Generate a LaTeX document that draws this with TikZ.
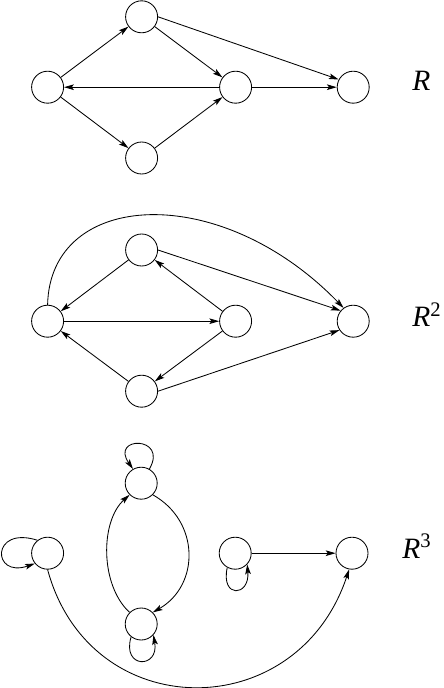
\documentclass[tikz,border=0pt]{standalone}
\usepackage{amsmath,amssymb}
\usepackage{fontspec}
\newfontfamily\labfont{Liberation Serif}
\usepackage{tikz}
\usetikzlibrary{positioning,arrows.meta,calc}

\begin{document}
\begin{tikzpicture}[
  >={Stealth[length=7pt,width=4pt,inset=1.5pt]}, line width=.6pt,
  vx/.style={circle,draw,minimum size=8mm,inner sep=0pt},
  lab/.style={anchor=base west,inner sep=0pt,font=\labfont\fontsize{21}{24}\selectfont}
]
  \useasboundingbox (0,0) rectangle (11.075,-17.2);
  % R
  \node[vx] (l1) at (1.19,-2.18) {};
  \node[vx] (t1) at (3.54,-0.42) {};
  \node[vx] (b1) at (3.54,-3.95) {};
  \node[vx] (m1) at (5.89,-2.18) {};
  \node[vx] (f1) at (8.83,-2.18) {};
  \node[lab] (n1) at (10.3,-2.27) {\textit{R}};
  \draw[->] (l1) -- (t1);
  \draw[->] (l1) -- (b1);
  \draw[->] (t1) -- (m1);
  \draw[->] (b1) -- (m1);
  \draw[->] (m1) -- (l1);
  \draw[->] (m1) -- (f1);
  \draw[->] (t1.east) -- (f1.152);
  % R^2
  \node[vx] (l2) at (1.19,-8.03) {};
  \node[vx] (t2) at (3.54,-6.25) {};
  \node[vx] (b2) at (3.54,-9.78) {};
  \node[vx] (m2) at (5.89,-8.03) {};
  \node[vx] (f2) at (8.83,-8.03) {};
  \node[lab] (n2) at (10.3,-8.17) {\textit{R}\textsuperscript{2}};
  \draw[->] (t2) -- (l2);
  \draw[->] (l2) -- (m2);
  \draw[->] (m2) -- (t2);
  \draw[->] (m2) -- (b2);
  \draw[->] (b2) -- (l2);
  \draw[->] (t2.east) -- (f2.140);
  \draw[->] (b2.east) -- (f2.213);
  \draw[->] (l2.north) .. controls (1.25,-4.75) and (5.5,-4.5) .. (f2.126);
  % R^3
  \node[vx] (l3) at (1.19,-13.83) {};
  \node[vx] (t3) at (3.53,-12.08) {};
  \node[vx] (b3) at (3.53,-15.6) {};
  \node[vx] (m3) at (5.88,-13.83) {};
  \node[vx] (f3) at (8.8,-13.83) {};
  \node[lab] (n3) at (10.05,-13.95) {\textit{R}\textsuperscript{3}};
  \draw[->] (l3.128) .. controls +(-1.17,.375) and +(-1.08,-.375) .. (l3.219);
  \draw[->] (t3.60) .. controls +(.48,.83) and +(-.58,.83) .. (t3.120);
  \draw[->] (b3.232) .. controls +(-.24,-.8) and +(.15,-.85) .. (b3.318);
  \draw[->] (m3.241) .. controls +(-.17,-.78) and +(.07,-.81) .. (m3.317);
  \draw[->] (b3.135) .. controls (2.5,-14.63) and (2.5,-13.03) .. (t3.225);
  \draw[->] (t3.315) .. controls (5.0,-13.03) and (5.0,-14.63) .. (b3.45);
  \draw[->] (m3) -- (f3);
  \draw[->] (l3.south) .. controls (2.25,-18.15) and (7.43,-18.15) .. (f3.260);
\end{tikzpicture}
\end{document}
